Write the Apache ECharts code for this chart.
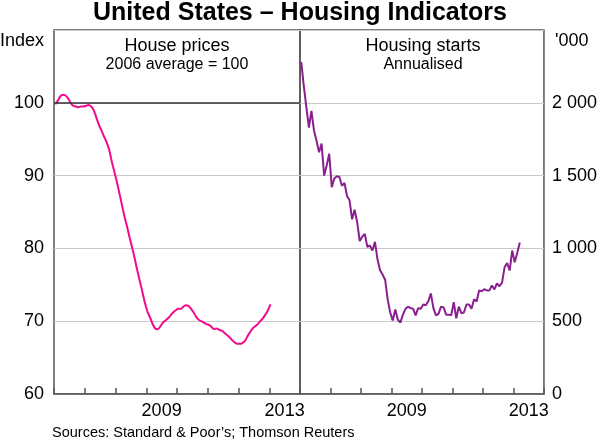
<!DOCTYPE html>
<html>
<head>
<meta charset="utf-8">
<script src="https://cdn.jsdelivr.net/npm/echarts@6/dist/echarts.min.js"></script>
<style>
html,body{margin:0;padding:0;background:#fff;}
#chart{width:600px;height:440px;}
</style>
</head>
<body>
<div id="chart"></div>
<script>
// Data (monthly, starting January 2006)
var yearCategories = ['2006','2007','2008','2009','2010','2011','2012','2013'];
var shownYearLabels = ['2009','2013'];
var startYear = 2006;
// House prices, 2006 average = 100 (Jan 2006 - Jan 2013)
var housePrices = [
  99.8,100.3,100.9,101.1,101.0,100.6,100.0,99.6,99.5,99.4,99.5,99.5,
  99.6,99.7,99.5,99.0,98.0,97.0,96.2,95.4,94.6,93.6,92.0,90.6,
  89.2,87.6,86.0,84.4,83.0,81.5,80.1,78.6,77.0,75.5,74.0,72.5,
  71.3,70.5,69.6,69.0,68.9,69.3,69.8,70.1,70.4,70.8,71.2,71.5,
  71.7,71.7,72.0,72.2,72.1,71.7,71.2,70.6,70.2,70.0,69.8,69.6,
  69.5,69.2,68.9,69.0,68.8,68.7,68.4,68.1,67.8,67.4,67.1,66.9,
  66.9,67.0,67.3,67.9,68.5,69.0,69.3,69.6,70.0,70.4,70.9,71.5,
  72.3
];
// Housing starts, annualised, '000 (Jan 2006 - Mar 2013)
var housingStarts = [
  2280,2115,1970,1830,1945,1810,1740,1660,1720,1500,1570,1650,
  1420,1480,1495,1490,1430,1450,1360,1330,1200,1265,1180,1050,
  1080,1100,1010,1020,985,1045,925,850,820,785,650,560,
  505,580,510,490,545,585,600,590,585,540,590,585,
  615,610,638,690,590,540,550,600,595,545,545,540,
  630,520,600,555,560,615,615,585,650,635,712,705,
  720,712,710,745,718,760,740,765,870,900,848,985,
  905,970,1040
];
var leftTicks = [60,110,10];   // min, max, interval
var rightTicks = [0,2500,500];

function toPairs(arr){
  return arr.map(function(v,i){ return [startYear + (i+0.5)/12, v]; });
}

var FONT = 'Liberation Sans, Arial, sans-serif';
var chart = echarts.init(document.getElementById('chart'), null, {renderer:'canvas'});

function catAxis(gridIndex){
  return {
    type:'category', gridIndex:gridIndex, data:yearCategories, boundaryGap:true,
    axisLine:{show:true, lineStyle:{color:'#555', width:1.5}},
    axisTick:{show:true, inside:true, length:6, interval:0, lineStyle:{color:'#555', width:1.5}},
    axisLabel:{
      interval:function(i,v){ return shownYearLabels.indexOf(v) >= 0; },
      color:'#000', fontSize:18, fontFamily:FONT, margin:8
    },
    splitLine:{show:false}
  };
}
function valXAxis(gridIndex){
  return {type:'value', gridIndex:gridIndex, min:2006, max:2014, show:false};
}

var option = {
  animation:false,
  backgroundColor:'#fff',
  grid:[
    {left:54, top:30, width:246, height:364, show:true, borderColor:'#555', borderWidth:1.5, backgroundColor:'transparent'},
    {left:300, top:30, width:247, height:364, show:true, borderColor:'#555', borderWidth:1.5, backgroundColor:'transparent'}
  ],
  xAxis:[catAxis(0), valXAxis(0), catAxis(1), valXAxis(1)],
  yAxis:[
    {type:'value', gridIndex:0, min:leftTicks[0], max:leftTicks[1], interval:leftTicks[2], position:'left',
     axisLine:{show:false}, axisTick:{show:false},
     axisLabel:{color:'#000', fontSize:18, fontFamily:FONT, margin:10,
       formatter:function(v){ return v >= leftTicks[1] ? '' : String(v); }},
     splitLine:{show:true, lineStyle:{color:'#c8c8c8', width:1}}},
    {type:'value', gridIndex:1, min:rightTicks[0], max:rightTicks[1], interval:rightTicks[2], position:'right',
     axisLine:{show:false}, axisTick:{show:false},
     axisLabel:{color:'#000', fontSize:18, fontFamily:FONT, margin:8,
       formatter:function(v){
         if (v >= rightTicks[1]) return '';
         return String(v).replace(/\B(?=(\d{3})+(?!\d))/g,' ');
       }},
     splitLine:{show:true, lineStyle:{color:'#c8c8c8', width:1}}}
  ],
  series:[
    {type:'line', name:'House prices', xAxisIndex:1, yAxisIndex:0, data:toPairs(housePrices),
     showSymbol:false, smooth:0.3, lineStyle:{color:'#f20a8c', width:2}, itemStyle:{color:'#f20a8c'},
     markLine:{silent:true, symbol:['none','none'], label:{show:false},
       lineStyle:{color:'#333', width:1.5, type:'solid'}, data:[{yAxis:100}]},
     z:3},
    {type:'line', name:'Housing starts', xAxisIndex:3, yAxisIndex:1, data:toPairs(housingStarts),
     showSymbol:false, lineStyle:{color:'#8a1f8f', width:2}, itemStyle:{color:'#8a1f8f'}, z:3}
  ],
  graphic:[
    {type:'text', left:'center', top:1, style:{text:'United States \u2013 Housing Indicators', font:'bold 25px '+FONT, fill:'#000'}},
    {type:'text', x:0, y:41, style:{text:'Index', font:'18px '+FONT, fill:'#000', verticalAlign:'middle'}},
    {type:'text', x:555, y:41, style:{text:"'000", font:'18px '+FONT, fill:'#000', verticalAlign:'middle'}},
    {type:'text', x:177, y:46, style:{text:'House prices', font:'18px '+FONT, fill:'#000', align:'center', verticalAlign:'middle'}},
    {type:'text', x:177, y:65, style:{text:'2006 average = 100', font:'16px '+FONT, fill:'#000', align:'center', verticalAlign:'middle'}},
    {type:'text', x:423, y:46, style:{text:'Housing starts', font:'18px '+FONT, fill:'#000', align:'center', verticalAlign:'middle'}},
    {type:'text', x:423, y:65, style:{text:'Annualised', font:'16px '+FONT, fill:'#000', align:'center', verticalAlign:'middle'}},
    {type:'text', x:52, y:433, style:{text:"Sources: Standard & Poor\u2019s; Thomson Reuters", font:'14.5px '+FONT, fill:'#000', verticalAlign:'middle'}}
  ]
};
chart.setOption(option);
</script>
</body>
</html>
